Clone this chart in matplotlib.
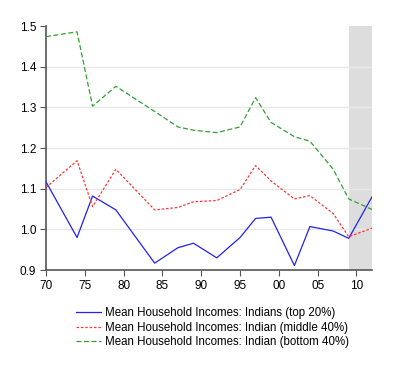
import matplotlib
matplotlib.use("Agg")
import matplotlib.pyplot as plt

plt.rcParams['font.family'] = ['Liberation Sans', 'DejaVu Sans']

years = [1970, 1974, 1976, 1979, 1984, 1987, 1989, 1992, 1995, 1997, 1999, 2002, 2004, 2007, 2009, 2012]
top20 = [1.117, 0.980, 1.082, 1.048, 0.917, 0.955, 0.966, 0.930, 0.980, 1.027, 1.030, 0.911, 1.007, 0.996, 0.978, 1.080]
middle40 = [1.103, 1.169, 1.056, 1.148, 1.048, 1.054, 1.068, 1.071, 1.098, 1.157, 1.119, 1.075, 1.083, 1.039, 0.982, 1.003]
bottom40 = [1.474, 1.486, 1.303, 1.352, 1.290, 1.252, 1.244, 1.238, 1.252, 1.324, 1.263, 1.228, 1.217, 1.148, 1.075, 1.049]

labels = ["Mean Household Incomes: Indians (top 20%)",
          "Mean Household Incomes: Indian (middle 40%)",
          "Mean Household Incomes: Indian (bottom 40%)"]

xtick_years = [1970, 1975, 1980, 1985, 1990, 1995, 2000, 2005, 2010]
xtick_labels = ["70", "75", "80", "85", "90", "95", "00", "05", "10"]
ytick_vals = [0.9, 1.0, 1.1, 1.2, 1.3, 1.4, 1.5]
ytick_labels = ["0.9", "1.0", "1.1", "1.2", "1.3", "1.4", "1.5"]
shade_span = [2009, 2012]

fig = plt.figure(figsize=(4.0, 3.73), dpi=100)
ax = fig.add_axes([0.115, 0.276, 0.815, 0.654])

ax.axvspan(shade_span[0], shade_span[1], color="#dddddd", lw=0, zorder=0)
for v in ytick_vals[1:-1]:
    ax.axhline(v, color="#e8e8e8", lw=1.0, zorder=0.5)

l1, = ax.plot(years, top20, color="#2222ee", lw=0.9, label=labels[0], zorder=3)
l2, = ax.plot(years, middle40, color="#ff3333", lw=0.9, ls=(0, (2, 1.5)), label=labels[1], zorder=3)
l3, = ax.plot(years, bottom40, color="#33a033", lw=0.9, ls=(0, (4, 2)), label=labels[2], zorder=3)

ax.set_xlim(1970, 2012)
ax.set_ylim(0.9, 1.5)
ax.set_xticks(xtick_years)
ax.set_xticklabels(xtick_labels)
ax.set_yticks(ytick_vals)
ax.set_yticklabels(ytick_labels)
ax.tick_params(axis='both', labelsize=8.5, color="#555555", length=4, width=0.8, direction='out', pad=3)
for s in ['top', 'right']:
    ax.spines[s].set_visible(False)
for s in ['left', 'bottom']:
    ax.spines[s].set_color("#555555")
    ax.spines[s].set_linewidth(1.2)

fig.legend(handles=[l1, l2, l3], loc='upper left', bbox_to_anchor=(0.19, 0.176),
           frameon=False, fontsize=8.3, handlelength=2.2, handletextpad=0.35,
           labelspacing=0.22, borderpad=0, borderaxespad=0)

fig.savefig("out.png", dpi=100)
